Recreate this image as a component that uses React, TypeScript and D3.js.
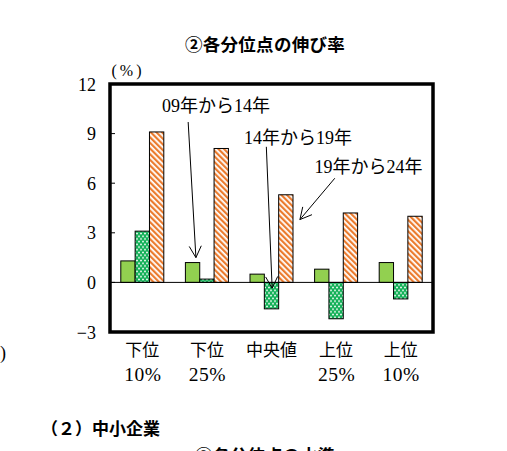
import * as d3 from "d3";
import { useEffect, useRef } from "react";

const categories = ["下位10", "下位25", "中央値", "上位25", "上位10"];
const labelLine1 = ["下位", "下位", "中央値", "上位", "上位"];
const labelLine2 = ["10%", "25%", "", "25%", "10%"];
const series = ["09年から14年", "14年から19年", "19年から24年"];
const s0914 = [1.3, 1.2, 0.5, 0.8, 1.2];
const s1419 = [3.1, 0.2, -1.6, -2.2, -1.0];
const s1924 = [9.1, 8.1, 5.3, 4.2, 4.0];
const yTicks = [-3, 0, 3, 6, 9, 12];

// annotation: text anchor and arrow (category index, value)
const annotations = [
  { text: series[0], at: [1.14, 10.3], from: [0.71, 9.7], to: [0.83, 1.5] },
  { text: series[1], at: [2.41, 8.4], from: [1.92, 8.2], to: [2.01, -0.35] },
  { text: series[2], at: [3.5, 6.6], from: [2.98, 6.3], to: [2.44, 3.8] },
];

const serif = "'Liberation Serif', 'Noto Sans CJK JP', serif";
const gothic = "'Noto Sans CJK JP', sans-serif";

export default function App() {
  const ref = useRef<SVGSVGElement>(null);

  useEffect(() => {
    document.body.style.margin = "0";
    document.body.style.overflow = "hidden";
    const width = 507;
    const height = 451;
    const left = 110, right = 433, top = 84, bottom = 332;

    const svg = d3.select(ref.current).attr("width", width).attr("height", height);
    svg.selectAll("*").remove();

    const defs = svg.append("defs");
    const dots = defs
      .append("pattern")
      .attr("id", "dots")
      .attr("patternUnits", "userSpaceOnUse")
      .attr("width", 4)
      .attr("height", 5.4);
    dots.append("rect").attr("width", 4).attr("height", 5.4).attr("fill", "#12B057");
    dots.append("circle").attr("cx", 1).attr("cy", 1.3).attr("r", 0.95).attr("fill", "#fff");
    dots.append("circle").attr("cx", 3).attr("cy", 4).attr("r", 0.95).attr("fill", "#fff");

    const stripes = defs
      .append("pattern")
      .attr("id", "stripes")
      .attr("patternUnits", "userSpaceOnUse")
      .attr("width", 4)
      .attr("height", 4)
      .attr("patternTransform", "rotate(-45)");
    stripes.append("rect").attr("width", 4).attr("height", 4).attr("fill", "#fff");
    stripes.append("rect").attr("width", 2.2).attr("height", 4).attr("fill", "#EB7B2D");

    const x = d3.scaleBand().domain(categories).range([left, right]);
    const xi = d3.scaleLinear().domain([-0.5, 4.5]).range([left, right]);
    const y = d3.scaleLinear().domain([-3, 12]).range([bottom, top]);
    const inner = d3.scaleBand().domain(series).range([-21.5, 21.5]);

    const fills = ["#92D050", "url(#dots)", "url(#stripes)"];
    const all = [s0914, s1419, s1924];

    // title
    svg
      .append("text")
      .attr("x", 265)
      .attr("y", 51)
      .attr("text-anchor", "middle")
      .attr("font-family", gothic)
      .attr("font-weight", "bold")
      .attr("font-size", 17.5)
      .attr("letter-spacing", 0.3)
      .text("②各分位点の伸び率");

    svg
      .append("text")
      .attr("x", 128)
      .attr("y", 76)
      .attr("text-anchor", "middle")
      .attr("font-family", serif)
      .attr("font-size", 16)
      .attr("letter-spacing", 3)
      .text("(%)");

    // bars
    all.forEach((vals, si) => {
      svg
        .append("g")
        .selectAll("rect")
        .data(vals)
        .join("rect")
        .attr("x", (_, i) => x(categories[i])! + x.bandwidth() / 2 + inner(series[si])!)
        .attr("width", inner.bandwidth())
        .attr("y", (d) => y(Math.max(0, d)))
        .attr("height", (d) => Math.abs(y(d) - y(0)))
        .attr("fill", fills[si])
        .attr("stroke", "#000")
        .attr("stroke-width", 1);
    });

    // zero line
    svg
      .append("line")
      .attr("x1", left)
      .attr("x2", right)
      .attr("y1", y(0))
      .attr("y2", y(0))
      .attr("stroke", "#000")
      .attr("stroke-width", 1);

    // y ticks
    svg
      .append("g")
      .selectAll("line")
      .data(yTicks)
      .join("line")
      .attr("x1", left)
      .attr("x2", left + 5)
      .attr("y1", (d) => y(d))
      .attr("y2", (d) => y(d))
      .attr("stroke", "#000");

    svg
      .append("g")
      .selectAll("text")
      .data(yTicks)
      .join("text")
      .attr("x", 96)
      .attr("y", (d) => y(d) + 6.5)
      .attr("text-anchor", "end")
      .attr("font-family", serif)
      .attr("font-size", 18)
      .text((d) => (d < 0 ? "−" + Math.abs(d) : String(d)));

    // frame
    svg
      .append("rect")
      .attr("x", left)
      .attr("y", top)
      .attr("width", right - left)
      .attr("height", bottom - top)
      .attr("fill", "none")
      .attr("stroke", "#000")
      .attr("stroke-width", 3.5);

    // x labels
    const xl = svg
      .append("g")
      .attr("font-family", serif)
      .attr("text-anchor", "middle");
    xl.selectAll(".l1")
      .data(labelLine1)
      .join("text")
      .attr("class", "l1")
      .attr("x", (_, i) => x(categories[i])! + x.bandwidth() / 2)
      .attr("y", 356)
      .attr("font-size", 17)
      .text((d) => d);
    xl.selectAll(".l2")
      .data(labelLine2)
      .join("text")
      .attr("class", "l2")
      .attr("x", (_, i) => x(categories[i])! + x.bandwidth() / 2 + 0.5)
      .attr("y", 381)
      .attr("font-size", 19.5)
      .attr("letter-spacing", 0.5)
      .text((d) => d);

    // annotations
    const ann = svg.append("g");
    annotations.forEach((a) => {
      ann
        .append("text")
        .attr("x", xi(a.at[0]))
        .attr("y", y(a.at[1]))
        .attr("text-anchor", "middle")
        .attr("font-family", serif)
        .attr("font-size", 18)
        .text(a.text);
      const x1 = xi(a.from[0]), y1 = y(a.from[1]);
      const x2 = xi(a.to[0]), y2 = y(a.to[1]);
      ann
        .append("line")
        .attr("x1", x1)
        .attr("y1", y1)
        .attr("x2", x2)
        .attr("y2", y2)
        .attr("stroke", "#000")
        .attr("stroke-width", 1);
      const ang = Math.atan2(y2 - y1, x2 - x1);
      const len = 13;
      const spread = Math.PI / 6.5;
      const p = [ang + Math.PI - spread, ang + Math.PI + spread].map((t) => [
        x2 + len * Math.cos(t),
        y2 + len * Math.sin(t),
      ]);
      ann
        .append("path")
        .attr("d", `M${p[0][0]},${p[0][1]}L${x2},${y2}L${p[1][0]},${p[1][1]}`)
        .attr("fill", "none")
        .attr("stroke", "#000")
        .attr("stroke-width", 1);
    });

    // surrounding page text
    svg
      .append("text")
      .attr("x", 0)
      .attr("y", 359)
      .attr("font-family", serif)
      .attr("font-size", 18)
      .text(")");
    svg
      .append("text")
      .attr("x", 41)
      .attr("y", 435)
      .attr("font-family", gothic)
      .attr("font-weight", "bold")
      .attr("font-size", 17)
      .text("（２）中小企業");
    svg
      .append("text")
      .attr("x", 195)
      .attr("y", 462)
      .attr("font-family", gothic)
      .attr("font-weight", "bold")
      .attr("font-size", 17.5)
      .text("③各分位点の水準");
  }, []);

  return <svg ref={ref} style={{ display: "block" }}></svg>;
}
